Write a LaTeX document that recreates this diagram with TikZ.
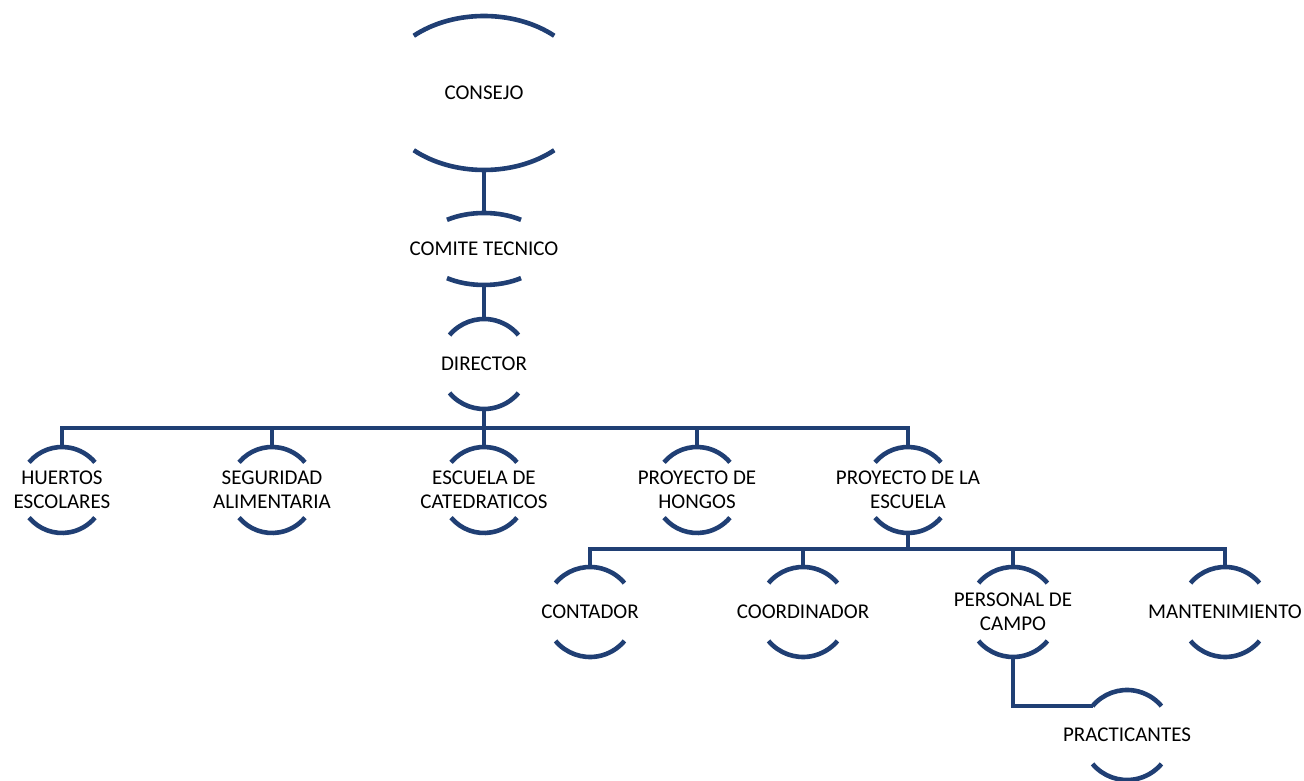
\documentclass[tikz,border=0pt]{standalone}
\usepackage{fontspec}
\setmainfont{Carlito}
\usetikzlibrary{calc}
\definecolor{navy}{RGB}{32,63,116}
\tikzset{
  lbl/.style={align=center,font=\fontsize{21}{24}\selectfont,inner sep=0pt,text=black},
  arcln/.style={draw=navy,line width=4.6pt},
  conn/.style={draw=navy,line width=4.6pt}
}
% name, X, Y, rx, ry, angle, text
\newcommand\onode[7]{%
  \node[lbl] (#1) at (#2,#3) {#7};
  \pgfmathsetmacro\oangL{180-#6}%
  \pgfmathsetmacro\oangBL{180+#6}%
  \pgfmathsetmacro\oangBR{360-#6}%
  \draw[arcln] ([shift={(\oangL:#4pt and #5pt)}]#1.center) arc[start angle=\oangL, end angle=#6, x radius=#4pt, y radius=#5pt];
  \draw[arcln] ([shift={(\oangBL:#4pt and #5pt)}]#1.center) arc[start angle=\oangBL, end angle=\oangBR, x radius=#4pt, y radius=#5pt];
  \coordinate (#1-t) at ([yshift=#5pt]#1.center);
  \coordinate (#1-b) at ([yshift=-#5pt]#1.center);
  \coordinate (#1-tl) at ([shift={(\oangL:#4pt and #5pt)}]#1.center);
}
\begin{document}
\begin{tikzpicture}[x=1pt,y=1pt]
\useasboundingbox (0,0) rectangle (1304,781);
\onode{con}{484}{688}{105}{77}{48}{CONSEJO}
\onode{com}{484}{532}{63}{36}{54}{COMITE TECNICO}
\onode{dir}{484}{417}{45}{45}{40}{DIRECTOR}
\onode{hue}{62}{291}{43}{43}{40}{HUERTOS\\ESCOLARES}
\onode{seg}{272}{291}{43}{43}{40}{SEGURIDAD\\ALIMENTARIA}
\onode{esc}{484}{291}{43}{43}{40}{ESCUELA DE\\CATEDRATICOS}
\onode{hon}{697}{291}{43}{43}{40}{PROYECTO DE\\HONGOS}
\onode{pro}{908}{291}{43}{43}{40}{PROYECTO DE LA\\ESCUELA}
\onode{cnt}{590}{169}{45}{45}{40}{CONTADOR}
\onode{coo}{803}{169}{45}{45}{40}{COORDINADOR}
\onode{per}{1013}{169}{45}{45}{40}{PERSONAL DE\\CAMPO}
\onode{man}{1225}{169}{45}{45}{40}{MANTENIMIENTO}
\onode{pra}{1127}{46}{45}{45}{40}{PRACTICANTES}
\coordinate (bus1) at (484,353);
\coordinate (bus2) at (908,232);
\draw[conn] (con-b) -- (com-t);
\draw[conn] (com-b) -- (dir-t);
\draw[conn] (dir-b) -- (bus1);
\draw[conn] (hue-t) |- (bus1) -| (pro-t);
\draw[conn] (seg-t) -- (seg-t |- bus1);
\draw[conn] (esc-t) -- (bus1);
\draw[conn] (hon-t) -- (hon-t |- bus1);
\draw[conn] (pro-b) -- (bus2);
\draw[conn] (cnt-t) |- (bus2) -| (man-t);
\draw[conn] (coo-t) -- (coo-t |- bus2);
\draw[conn] (per-t) -- (per-t |- bus2);
\draw[conn] (per-b) |- (pra-tl);
\end{tikzpicture}
\end{document}
